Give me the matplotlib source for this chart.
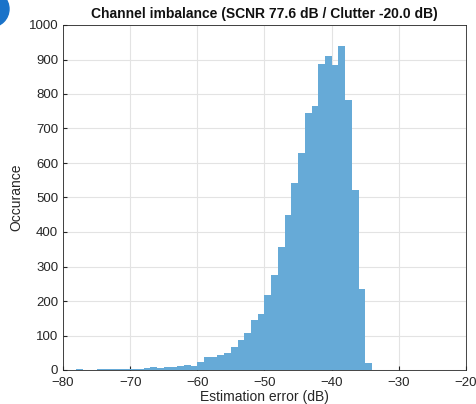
import numpy as np
import matplotlib
matplotlib.use("Agg")
import matplotlib.pyplot as plt
from matplotlib.patches import Circle

bin_edges = list(range(-80, -33))  # 1 dB bins from -80 to -34
counts = [0, 0, 3, 0, 1, 4, 4, 2, 2, 3,
          4, 3, 5, 10, 5, 9, 9, 11, 14, 12,
          24, 38, 39, 44, 50, 67, 87, 107, 145, 163,
          218, 276, 357, 448, 541, 628, 745, 764, 887, 909,
          883, 939, 783, 522, 235, 19]

title = "Channel imbalance (SCNR 77.6 dB / Clutter -20.0 dB)"
xlabel = "Estimation error (dB)"
ylabel = "Occurance"
xticks = [-80, -70, -60, -50, -40, -30, -20]
yticks = list(range(0, 1001, 100))

plt.rcParams['font.family'] = ['Liberation Sans', 'DejaVu Sans']
fig = plt.figure(figsize=(4.77, 4.04), dpi=100)
ax = fig.add_axes([63/477, 1 - 370/404, (466-63)/477, (370-25)/404])

left = np.array(bin_edges[:-1])
ax.bar(left, counts, width=1, align='edge', color='#66AAD7', edgecolor='none', zorder=2)

ax.set_xlim(-80, -20)
ax.set_ylim(0, 1000)
ax.set_xticks(xticks)
ax.set_xticklabels([str(t).replace('-', '\u2212') for t in xticks])
ax.set_yticks(yticks)
ax.grid(True, color='#e3e3e3', linewidth=0.8, zorder=0)
ax.set_axisbelow(True)
ax.tick_params(direction='in', length=3, color='#262626', labelcolor='#262626', labelsize=9.5)
ax.tick_params(axis='x', pad=5)
for s in ax.spines.values():
    s.set_color('#262626')
    s.set_linewidth(0.6)
ax.set_title(title, fontsize=10, fontweight='bold', color='#111111', pad=5)
ax.set_xlabel(xlabel, fontsize=10, color='#262626', labelpad=1)
ax.set_ylabel(ylabel, fontsize=10, color='#262626', labelpad=4)

circ = Circle((-9, 404 - 9), 18, transform=None, color='#1a73c9', zorder=10)
fig.patches.append(circ)

fig.savefig("out.png", dpi=100)
